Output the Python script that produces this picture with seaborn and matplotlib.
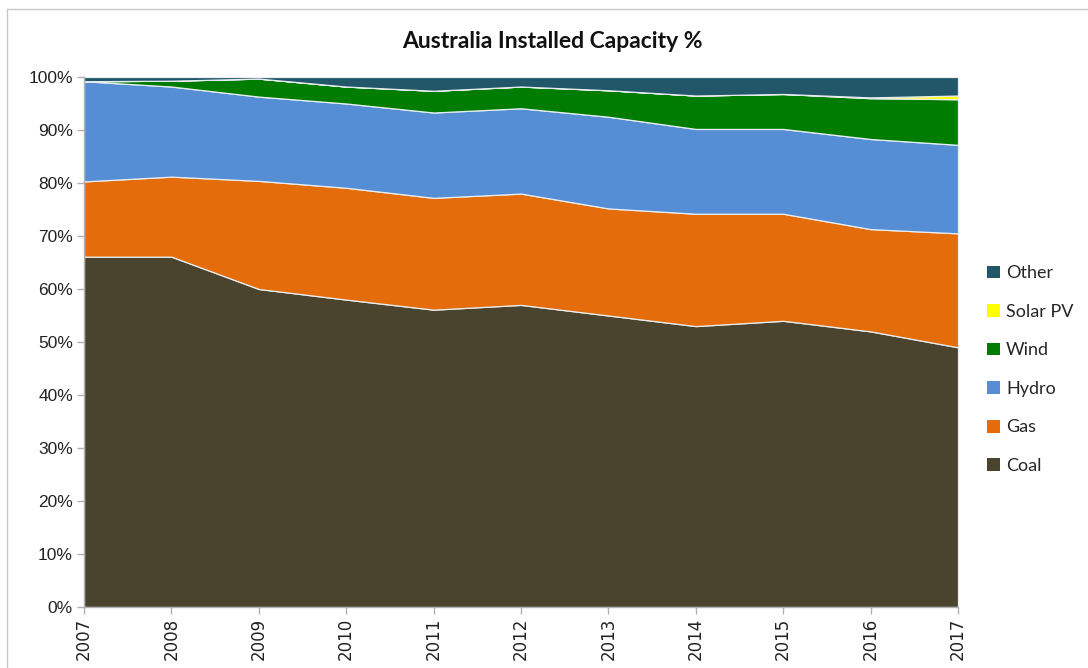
import numpy as np
import matplotlib
matplotlib.use("Agg")
import matplotlib.pyplot as plt
import seaborn as sns
from matplotlib.lines import Line2D
from matplotlib.patches import Patch

years = [2007, 2008, 2009, 2010, 2011, 2012, 2013, 2014, 2015, 2016, 2017]
coal = [66.1, 66.1, 60.0, 58.0, 56.1, 57.0, 55.0, 53.0, 54.0, 52.0, 49.0]
gas = [14.2, 15.1, 20.4, 21.1, 21.1, 21.0, 20.2, 21.2, 20.2, 19.3, 21.5]
hydro = [18.9, 17.0, 15.9, 15.9, 16.1, 16.1, 17.3, 16.0, 16.0, 17.0, 16.7]
wind = [0.0, 1.1, 3.4, 3.2, 4.1, 4.1, 5.0, 6.3, 6.6, 7.7, 8.6]
solar = [0.0, 0.0, 0.0, 0.0, 0.0, 0.0, 0.0, 0.0, 0.0, 0.15, 0.7]
other = [0.8, 0.7, 0.3, 1.8, 2.6, 1.8, 2.5, 3.5, 3.2, 3.85, 3.5]

series_names = ["Coal", "Gas", "Hydro", "Wind", "Solar PV", "Other"]
colors = ["#4a432d", "#e46c0a", "#558ed5", "#007d00", "#ffff00", "#215768"]

sns.set_style("white")
plt.rcParams['font.family'] = ['Liberation Sans', 'DejaVu Sans']

data = np.array([coal, gas, hydro, wind, solar, other], dtype=float)
pct = data / data.sum(axis=0) * 100

fig = plt.figure(figsize=(10.88, 6.68), dpi=100)
ax = fig.add_axes([84/1088, 1-607/668, (958-84)/1088, (607-77)/668])

ax.stackplot(years, pct, colors=colors, edgecolor="#e8eef0", linewidth=0.9)

ax.set_xlim(2007, 2017)
ax.set_ylim(0, 100)
ax.set_yticks(np.arange(0, 101, 10))
ax.set_yticklabels([f"{v}%" for v in range(0, 101, 10)], fontsize=12.5, color="#222222")
ax.set_xticks(years)
ax.set_xticklabels([str(y) for y in years], rotation=90, fontsize=12, color="#222222",
                   family=['DejaVu Sans'])

for s in ["top", "right"]:
    ax.spines[s].set_visible(False)
for s in ["left", "bottom"]:
    ax.spines[s].set_visible(True)
    ax.spines[s].set_color("#b0b0b0")
    ax.spines[s].set_linewidth(1.0)
ax.tick_params(axis="both", which="both", direction="out", length=5, width=1,
               color="#b0b0b0", left=True, bottom=True, pad=3)

fig.text(552/1088, 1-42/668, "Australia Installed Capacity %", ha="center", va="center",
         fontsize=16.5, fontweight="bold", family=['Lato', 'DejaVu Sans'], color="#111111")

handles = [Patch(facecolor=c, edgecolor="none") for c in colors][::-1]
labels = series_names[::-1]
leg = fig.legend(handles, labels, loc="upper left", bbox_to_anchor=(980/1088, 1-258/668),
                 frameon=False, handlelength=0.7, handleheight=0.7,
                 handletextpad=0.35, labelspacing=1.25, borderaxespad=0,
                 prop={'family': ['Lato', 'DejaVu Sans'], 'size': 13})

# figure border (top and left)
fig.add_artist(Line2D([7/1088, 1], [1-9/668, 1-9/668], transform=fig.transFigure,
                      color="#c8c8c8", linewidth=1))
fig.add_artist(Line2D([7/1088, 7/1088], [0, 1-9/668], transform=fig.transFigure,
                      color="#c8c8c8", linewidth=1))

fig.savefig("out.png", dpi=100)
